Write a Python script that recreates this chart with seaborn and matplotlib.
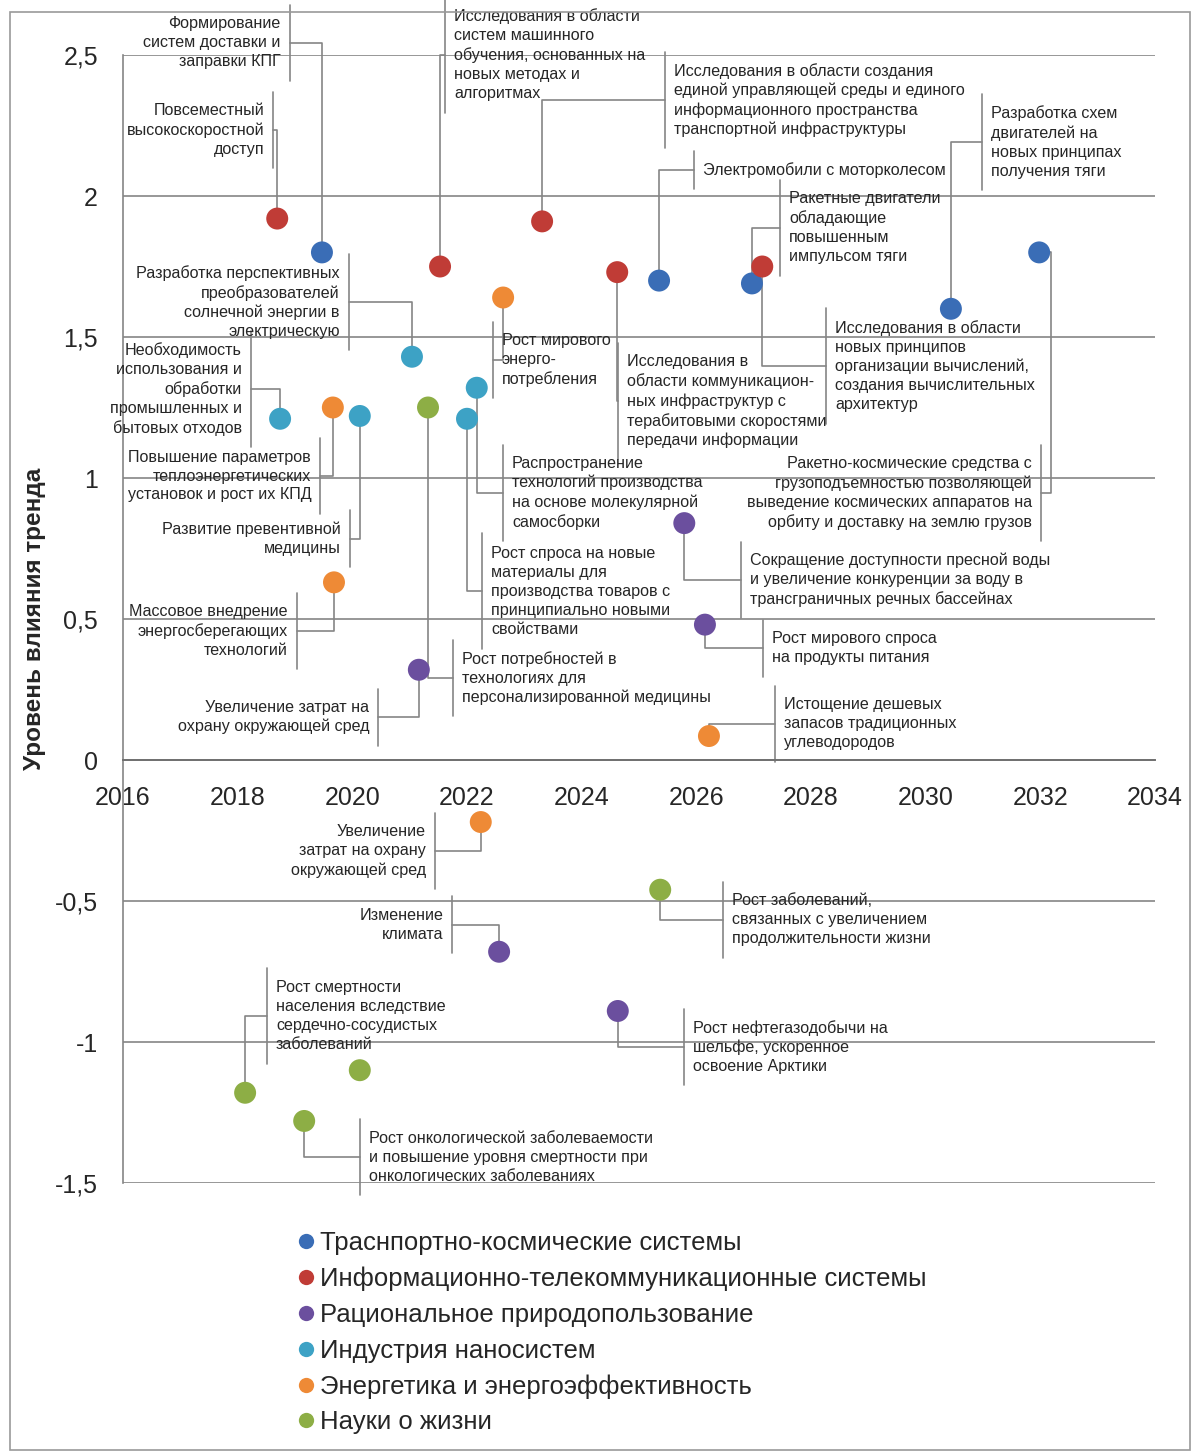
import numpy as np
import pandas as pd
import matplotlib
matplotlib.use("Agg")
import matplotlib.pyplot as plt
import seaborn as sns
from matplotlib.lines import Line2D
from matplotlib.patches import Rectangle
from matplotlib.ticker import FuncFormatter, MultipleLocator

# ---- data ----
categories = [
    "Траснпортно-космические системы",
    "Информационно-телекоммуникационные системы",
    "Рациональное природопользование",
    "Индустрия наносистем",
    "Энергетика и энергоэффективность",
    "Науки о жизни",
]
palette = ["#3A6DB6", "#C03C36", "#6B4F9E", "#3DA2C5", "#EE8A36", "#8DAE45"]

transport_x = [2019.47, 2025.35, 2026.97, 2030.44, 2031.98]
transport_y = [1.80, 1.70, 1.69, 1.60, 1.80]
transport_labels = [
    "Формирование\nсистем доставки и\nзаправки КПГ",
    "Электромобили с моторколесом",
    "Ракетные двигатели\nобладающие\nповышенным\nимпульсом тяги",
    "Разработка схем\nдвигателей на\nновых принципах\nполучения тяги",
    "Ракетно-космические средства с\nгрузоподъемностью позволяющей\n"
    "выведение космических аппаратов на\nорбиту и доставку на землю грузов",
]

it_x = [2018.69, 2021.53, 2023.31, 2024.62, 2027.15]
it_y = [1.92, 1.75, 1.91, 1.73, 1.75]
it_labels = [
    "Повсеместный\nвысокоскоростной\nдоступ",
    "Исследования в области\nсистем машинного\nобучения, основанных на\nновых методах и\nалгоритмах",
    "Исследования в области создания\nединой управляющей среды и единого\n"
    "информационного пространства\nтранспортной инфраструктуры",
    "Исследования в\nобласти коммуникацион-\nных инфраструктур с\nтерабитовыми скоростями\nпередачи информации",
    "Исследования в области\nновых принципов\nорганизации вычислений,\nсоздания вычислительных\nархитектур",
]

nature_x = [2025.79, 2026.15, 2021.16, 2022.56, 2024.63]
nature_y = [0.84, 0.48, 0.32, -0.68, -0.89]
nature_labels = [
    "Сокращение доступности пресной воды\nи увеличение конкуренции за воду в\nтрансграничных речных бассейнах",
    "Рост мирового спроса\nна продукты питания",
    "Увеличение затрат на\nохрану окружающей сред",
    "Изменение\nклимата",
    "Рост нефтегазодобычи на\nшельфе, ускоренное\nосвоение Арктики",
]

nano_x = [2018.74, 2020.13, 2021.04, 2022.17, 2022.00]
nano_y = [1.21, 1.22, 1.43, 1.32, 1.21]
nano_labels = [
    "Необходимость\nиспользования и\nобработки\nпромышленных и\nбытовых отходов",
    "Развитие превентивной\nмедицины",
    "Разработка перспективных\nпреобразователей\nсолнечной энергии в\nэлектрическую",
    "Распространение\nтехнологий производства\nна основе молекулярной\nсамосборки",
    "Рост спроса на новые\nматериалы для\nпроизводства товаров с\nпринципиально новыми\nсвойствами",
]

energy_x = [2019.66, 2022.63, 2019.68, 2026.22, 2022.24]
energy_y = [1.25, 1.64, 0.63, 0.085, -0.22]
energy_labels = [
    "Повышение параметров\nтеплоэнергетических\nустановок и рост их КПД",
    "Рост мирового\nэнерго-\nпотребления",
    "Массовое внедрение\nэнергосберегающих\nтехнологий",
    "Истощение дешевых\nзапасов традиционных\nуглеводородов",
    "Увеличение\nзатрат на охрану\nокружающей сред",
]

life_x = [2021.32, 2025.37, 2020.13, 2018.13, 2019.16]
life_y = [1.25, -0.46, -1.10, -1.18, -1.28]
life_labels = [
    "Рост потребностей в\nтехнологиях для\nперсонализированной медицины",
    "Рост заболеваний,\nсвязанных с увеличением\nпродолжительности жизни",
    None,
    "Рост смертности\nнаселения вследствие\nсердечно-сосудистых\nзаболеваний",
    "Рост онкологической заболеваемости\nи повышение уровня смертности при\nонкологических заболеваниях",
]

# ---- callout layout: (bar x, bar middle y, side of text, optional elbow x) ----
transport_callouts = [(2018.91, 2.543, "L"), (2025.96, 2.092, "R"), (2027.46, 1.887, "R"),
                      (2030.98, 2.191, "R"), (2032.01, 0.947, "L", 2032.19)]
it_callouts = [(2018.62, 2.234, "L"), (2021.62, 2.50, "R"), (2025.45, 2.34, "R"),
               (2024.63, 1.273, "R"), (2028.26, 1.397, "R")]
nature_callouts = [(2026.78, 0.638, "R"), (2027.16, 0.397, "R"), (2020.45, 0.152, "L"),
                   (2021.74, -0.585, "L"), (2025.79, -1.018, "R")]
nano_callouts = [(2018.23, 1.316, "L"), (2019.96, 0.784, "L"), (2019.94, 1.624, "L"),
                 (2022.63, 0.947, "R"), (2022.26, 0.599, "R")]
energy_callouts = [(2019.44, 1.007, "L"), (2022.45, 1.418, "R"), (2019.03, 0.457, "L"),
                   (2027.37, 0.128, "R"), (2021.44, -0.323, "L")]
life_callouts = [(2021.76, 0.291, "R"), (2026.47, -0.567, "R"), None,
                 (2018.51, -0.908, "R"), (2020.13, -1.408, "R")]

groups = [
    (transport_x, transport_y, transport_labels, transport_callouts),
    (it_x, it_y, it_labels, it_callouts),
    (nature_x, nature_y, nature_labels, nature_callouts),
    (nano_x, nano_y, nano_labels, nano_callouts),
    (energy_x, energy_y, energy_labels, energy_callouts),
    (life_x, life_y, life_labels, life_callouts),
]

df = pd.concat(
    [pd.DataFrame({"category": cat, "year": g[0], "impact": g[1]}) for cat, g in zip(categories, groups)],
    ignore_index=True,
)

# ---- figure ----
sns.set_style("white")
plt.rcParams["font.family"] = ["Liberation Sans", "DejaVu Sans"]

W, H = 1201, 1456
fig = plt.figure(figsize=(W / 100, H / 100), dpi=100)
ax = fig.add_axes([123 / W, 1 - 1183 / H, 1032 / W, 1128 / H])

sns.scatterplot(data=df, x="year", y="impact", hue="category", hue_order=categories,
                palette=palette, s=250, linewidth=0, legend=False, zorder=4, ax=ax)

ax.set_xlim(2016, 2034)
ax.set_ylim(-1.5, 2.5)
ax.xaxis.set_major_locator(MultipleLocator(2))
ax.yaxis.set_major_locator(MultipleLocator(0.5))
ax.yaxis.set_major_formatter(FuncFormatter(lambda v, p: f"{v:g}".replace(".", ",")))
ax.xaxis.set_major_formatter(FuncFormatter(lambda v, p: f"{v:.0f}"))

grid_col = "#858585"
ax.grid(axis="y", color=grid_col, linewidth=1.2)
ax.grid(axis="x", visible=False)
for s in ["top", "right"]:
    ax.spines[s].set_visible(False)
ax.spines["bottom"].set_position(("data", 0))
ax.spines["bottom"].set_color("#707070")
ax.spines["bottom"].set_linewidth(1.4)
ax.spines["left"].set_color(grid_col)
ax.spines["left"].set_linewidth(1.2)

ax.tick_params(axis="x", direction="out", length=5, width=1.1, color="#707070", pad=14)
ax.tick_params(axis="y", direction="out", length=6, width=1.1, color=grid_col, pad=12)
for t in ax.get_xticklabels() + ax.get_yticklabels():
    t.set_fontsize(18)
    t.set_color("#262626")

ax.set_xlabel("")
ax.set_ylabel("Уровень влияния тренда", fontsize=17.5, fontweight="bold", color="#262626")
ax.yaxis.set_label_coords((46 - 123) / 1032, 0.5)

# ---- callouts ----
line_h = 19.5 / 282      # one text line in data units (y)
gap = 9 / 57.33          # text to bar gap in data units (x)
lead_col = "#858585"
for xs, ys, labels, callouts in groups:
    for px, py, lab, co in zip(xs, ys, labels, callouts):
        if lab is None:
            continue
        bx, by, side = co[:3]
        ex = co[3] if len(co) > 3 else px
        n = lab.count("\n") + 1
        half = (n * line_h + 18 / 282) / 2
        ax.plot([bx, bx], [by - half, by + half], color=lead_col, lw=1.2, clip_on=False, zorder=2)
        ax.plot([px, ex, ex, bx], [py, py, by, by], color=lead_col, lw=1.2, clip_on=False, zorder=2)
        if side == "L":
            ax.text(bx - gap, by, lab, ha="right", va="center", multialignment="right",
                    fontsize=11.6, linespacing=1.33, color="#262626", zorder=3)
        else:
            ax.text(bx + gap, by, lab, ha="left", va="center", multialignment="left",
                    fontsize=11.6, linespacing=1.33, color="#262626", zorder=3)

# ---- legend ----
handles = [Line2D([], [], marker="o", linestyle="", markersize=11, markerfacecolor=c,
                  markeredgewidth=0) for c in palette]
fig.legend(handles, categories, loc="upper left", bbox_to_anchor=(298 / W, 1 - 1231 / H),
           frameon=False, fontsize=18.5, handlelength=0.6, handletextpad=0.25,
           labelspacing=0.455, borderaxespad=0, borderpad=0)

# outer chart border
fig.patches.append(Rectangle((10 / W, 1 - 1450 / H), 1180 / W, 1438 / H, transform=fig.transFigure,
                             fill=False, edgecolor="#9a9a9a", linewidth=1.2))

fig.savefig("out.png", dpi=100)
